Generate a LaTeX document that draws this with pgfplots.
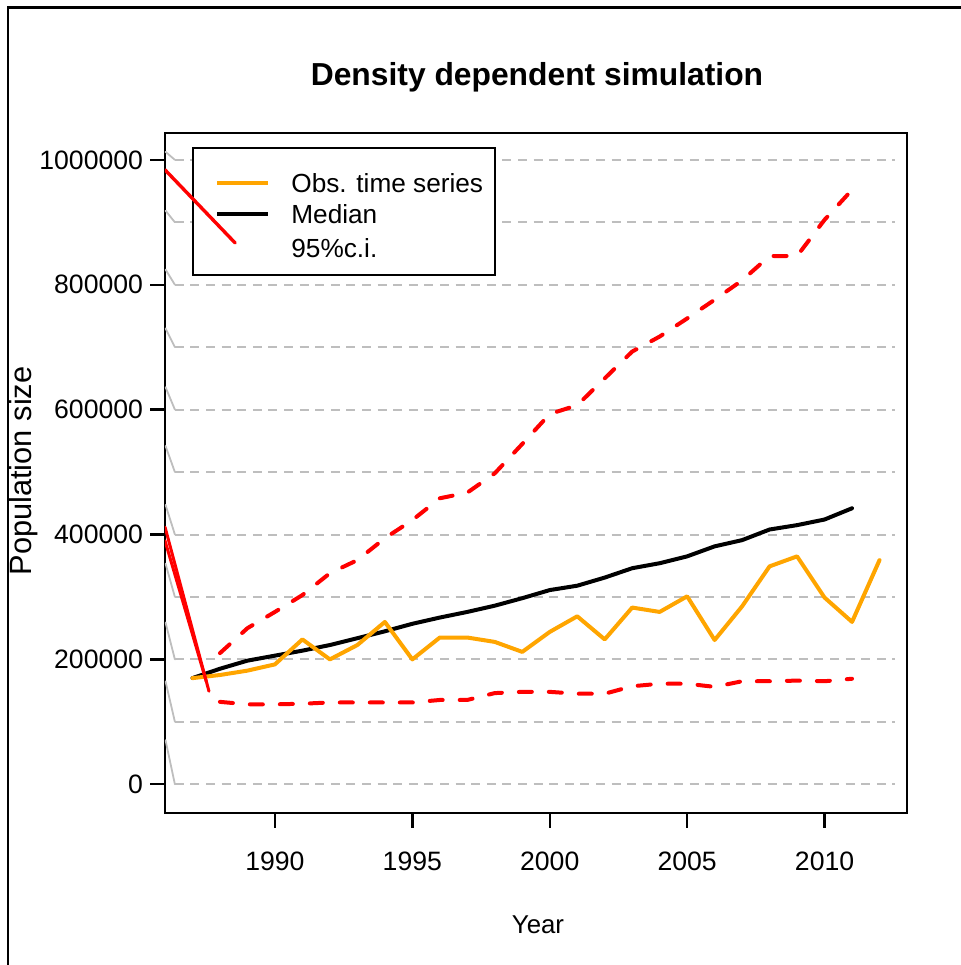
\documentclass[border=0pt]{standalone}
\usepackage{pgfplots}
\pgfplotsset{compat=1.18}
\usepackage{fontspec}
\setmainfont{Liberation Sans}
\definecolor{robs}{RGB}{255,165,0}
\definecolor{gridgray}{RGB}{190,190,190}
\definecolor{rred}{RGB}{255,0,0}

\pgfplotstableread{
year value
1987 170000
1988 175000
1989 182000
1990 192000
1991 232000
1992 200000
1993 223000
1994 260000
1995 200000
1996 235000
1997 235000
1998 228000
1999 212000
2000 244000
2001 269000
2002 232000
2003 283000
2004 276000
2005 301000
2006 231000
2007 285000
2008 349000
2009 365000
2010 299000
2011 260000
2012 359000
}\obsdata

\pgfplotstableread{
year value
1987 170000
1988 185000
1989 198000
1990 206000
1991 214000
1992 223000
1993 234000
1994 245000
1995 257000
1996 267000
1997 276000
1998 286000
1999 298000
2000 311000
2001 318000
2002 331000
2003 346000
2004 354000
2005 365000
2006 381000
2007 391000
2008 408000
2009 415000
2010 424000
2011 442000
}\meddata

\pgfplotstableread{
year value
1988 132000
1989 128000
1990 128000
1991 129000
1992 131000
1993 131000
1994 131000
1995 131000
1996 135000
1997 135000
1998 146000
1999 148000
2000 148000
2001 145000
2002 145000
2003 157000
2004 161000
2005 161000
2006 156000
2007 165000
2008 165000
2009 166000
2010 165000
2011 169000
}\lowdata

\pgfplotstableread{
year value
1988 210000
1989 250000
1990 276000
1991 303000
1992 338000
1993 359000
1994 394000
1995 423000
1996 458000
1997 467000
1998 498000
1999 545000
2000 593000
2001 607000
2002 650000
2003 693000
2004 717000
2005 746000
2006 776000
2007 807000
2008 846000
2009 846000
2010 904000
2011 952000
}\updata

\begin{document}
\begin{tikzpicture}
\useasboundingbox (0,0) rectangle (480pt,482.5pt);
\begin{scope}[yshift=482.5pt, x=0.5pt, y=-0.5pt]
\draw[line width=1.3pt] (8,970) -- (8,7.5) -- (965,7.5);
\node[font=\bfseries\fontsize{15.9}{19}\selectfont, anchor=base] at (537,86) {Density dependent simulation};
\node[font=\fontsize{12.9}{15}\selectfont, anchor=base] at (538,933) {Year};
\node[font=\fontsize{15.4}{18}\selectfont, rotate=90, anchor=base] at (32,471) {Population size};
\end{scope}

\begin{axis}[
  at={(82.5pt,76pt)}, anchor=south west,
  scale only axis, width=371pt, height=340pt,
  xmin=1986, xmax=2013, ymin=-46000, ymax=1043000,
  axis line style={line width=1.2pt},
  xtick={1990,1995,2000,2005,2010},
  ytick={0,200000,400000,600000,800000,1000000},
  tick align=outside, major tick length=7.5pt,
  tick style={black, line width=1.2pt},
  x tick style={black, line width=1.2pt},
  y tick style={black, line width=1.2pt},
  xtick pos=bottom, ytick pos=left,
  scaled y ticks=false, scaled x ticks=false,
  xticklabel style={/pgf/number format/1000 sep={}, yshift=-8.5pt},
  yticklabel style={/pgf/number format/.cd, fixed, 1000 sep={}},
  /pgf/number format/assume math mode=true,
  tick label style={font=\fontsize{13.3}{15}\selectfont},
  every axis plot/.append style={line join=round, line cap=round},
]
% grid lines (dashed) and their diagonal starts
\pgfplotsinvokeforeach{0,1,2,3,4,5,6,7,8,9,10}{
  \addplot[gridgray, line width=1pt, dash pattern=on 4.5pt off 3.3pt, line cap=butt, forget plot] coordinates {(1986.36,#1*100000) (2012.56,#1*100000)};
  \addplot[gridgray, line width=0.9pt, forget plot] coordinates {(1986.02,#1*100000+70500-5770*#1) (1986.36,#1*100000)};
}
% legend box
\draw[fill=white, line width=1.2pt] (rel axis cs:0.0377,0.7912) rectangle (rel axis cs:0.4447,0.9779);
\draw[robs, line width=2pt] (rel axis cs:0.0701,0.9265) -- (rel axis cs:0.1388,0.9265);
\draw[black, line width=2pt] (rel axis cs:0.0701,0.8809) -- (rel axis cs:0.1388,0.8809);
\node[anchor=base west, inner sep=0pt, font=\fontsize{13.1}{15}\selectfont] at (rel axis cs:0.1698,0.9118) {Obs. time series};
\node[anchor=base west, inner sep=0pt, font=\fontsize{13.1}{15}\selectfont] at (rel axis cs:0.1698,0.8662) {Median};
\node[anchor=base west, inner sep=0pt, font=\fontsize{13.1}{15}\selectfont] at (rel axis cs:0.1698,0.8176) {95\%c.i.};

% confidence interval
\addplot[rred, line width=2pt, dash pattern=on 6.5pt off 8.5pt] table[x=year,y=value] {\updata};
\addplot[rred, line width=2pt, dash pattern=on 6.5pt off 8.5pt] table[x=year,y=value] {\lowdata};
% median and observations
\addplot[black, line width=2pt] table[x=year,y=value] {\meddata};
\addplot[robs, line width=2pt] table[x=year,y=value] {\obsdata};
% stray red segments
\addplot[rred, line width=1.7pt] coordinates {(1986,984000) (1988.55,867000)};
\addplot[rred, line width=1.5pt] coordinates {(1986,412000) (1987.6,149000)};
\addplot[rred, line width=1.5pt] coordinates {(1986,390000) (1987.5,165000)};
\end{axis}
\end{tikzpicture}
\end{document}
